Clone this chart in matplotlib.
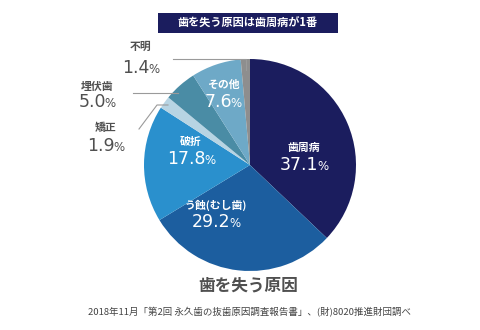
import matplotlib
matplotlib.use("Agg")
import matplotlib.pyplot as plt
from matplotlib.patches import Rectangle

plt.rcParams['font.family'] = ['Noto Sans CJK JP', 'DejaVu Sans']

# 抜歯原因の内訳 (%), 12時の位置から時計回り
causes = ['歯周病', 'う蝕(むし歯)', '破折', '矯正', '埋伏歯', 'その他', '不明']
shares = [37.1, 29.2, 17.8, 1.9, 5.0, 7.6, 1.4]
colors = ['#1b1d5e', '#1c5e9f', '#2a90cd', '#b7d4e3', '#4a8ca5', '#6ea9c7', '#8e8e8e']

title = '歯を失う原因は歯周病が1番'
caption = '歯を失う原因'
source = '2018年11月「第2回 永久歯の抜歯原因調査報告書」、(財)8020推進財団調べ'

W, H = 480, 330
fig = plt.figure(figsize=(4.8, 3.3), dpi=100)
ax = fig.add_axes([0, 0, 1, 1])

ax.pie(shares, colors=colors, startangle=90, counterclock=False,
       center=(250, H - 165), radius=106,
       wedgeprops=dict(linewidth=0))
ax.set_xlim(0, W)
ax.set_ylim(0, H)
ax.axis('off')


def y(p):
    return H - p


def pct_label(x, yb, value, color, size=12.5, psize=8.5):
    # 数字と小さめの「%」を並べて中央揃えにする
    t1 = ax.text(x, y(yb), value, color=color, fontsize=size, va='baseline',
                 ha='left', family='DejaVu Sans')
    t2 = ax.text(x, y(yb), '%', color=color, fontsize=psize, va='baseline',
                 ha='left', family='DejaVu Sans')
    r = fig.canvas.get_renderer()
    w1 = t1.get_window_extent(r).width
    w2 = t2.get_window_extent(r).width
    left = x - (w1 + w2 - 1.5) / 2
    t1.set_x(left)
    t2.set_x(left + w1 - 1.5)


# 見出しボックス
ax.add_patch(Rectangle((158, y(33)), 180, 20, facecolor='#1b1d5e', edgecolor='none'))
ax.text(248, y(23), title, color='white', fontsize=8, fontweight='bold',
        ha='center', va='center')

# 円グラフ内のラベル
white = 'white'
inner = [
    ('歯周病', '37.1', 304, 148, 170),
    ('う蝕(むし歯)', '29.2', 216, 205, 227),
    ('破折', '17.8', 191, 142, 164),
    ('その他', '7.6', 223, 85, 107),
]
for name, val, cx, ny, vb in inner:
    ax.text(cx, y(ny), name, color=white, fontsize=7.8, fontweight='bold',
            ha='center', va='center')
    pct_label(cx, vb, val, white)

# 円グラフ外のラベル
grey = '#505050'
outer = [
    ('不明', '1.4', 141, 47, 73),
    ('埋伏歯', '5.0', 97, 87, 107),
    ('矯正', '1.9', 106, 128, 151),
]
for name, val, cx, ny, vb in outer:
    ax.text(cx, y(ny), name, color=grey, fontsize=7.8, fontweight='bold',
            ha='center', va='center')
    pct_label(cx, vb, val, grey)

# 引き出し線
line_kw = dict(color='#9a9a9a', linewidth=0.8)
ax.plot([173, 246, 246], [y(59), y(59), y(70)], **line_kw)
ax.plot([133, 178], [y(93), y(93)], **line_kw)
ax.plot([139, 157, 168], [y(129), y(105), y(105)], **line_kw)

ax.text(248, y(286), caption, color=grey, fontsize=12, fontweight='bold',
        ha='center', va='center')
ax.text(249, y(312), source, color='#444444', fontsize=6.8,
        ha='center', va='center')

fig.savefig('out.png', dpi=100, facecolor='white')
